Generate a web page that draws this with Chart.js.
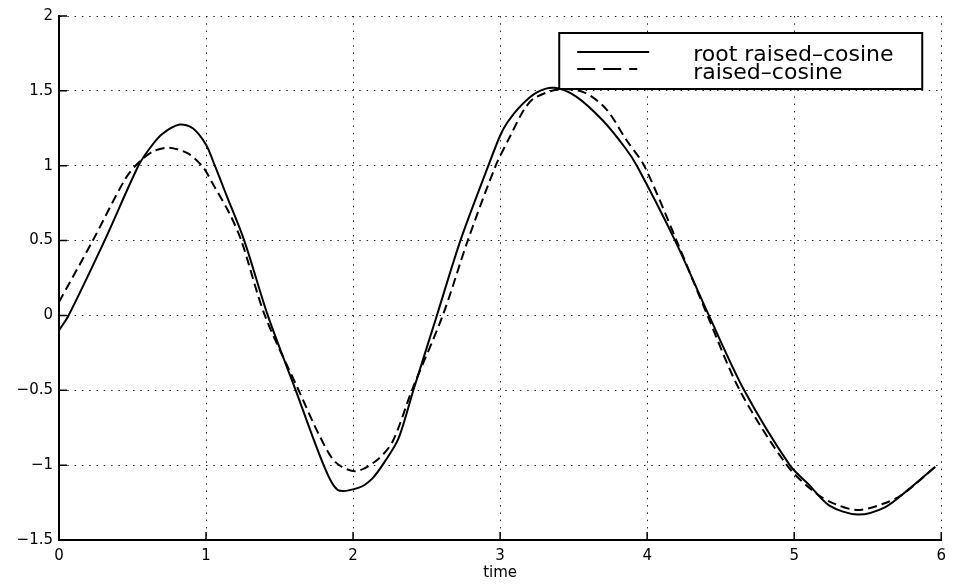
<!DOCTYPE html>
<html>
<head>
<meta charset="utf-8">
<script src="https://cdn.jsdelivr.net/npm/chart.js@4.4.1/dist/chart.umd.min.js"></script>
<style>
html, body { margin: 0; padding: 0; background: #fff; }
</style>
</head>
<body>
<canvas id="c" width="953" height="587"></canvas>
<script>
// root raised-cosine (solid)
const timeRoot = [0, 0.065, 0.31, 0.54, 0.62, 0.70, 0.82, 0.91, 1.0, 1.06, 1.14, 1.26, 1.42, 1.61, 1.80, 1.895, 2.04, 2.13, 2.22, 2.31, 2.41, 2.57, 2.73, 2.92, 3.0, 3.05, 3.14, 3.25, 3.37, 3.52, 3.70, 3.85, 3.93, 4.19, 4.42, 4.66, 4.97, 5.1, 5.24, 5.43, 5.62, 5.78, 5.96];
const rootRaised = [-0.10, 0, 0.5, 1.0, 1.12, 1.21, 1.275, 1.25, 1.14, 1.0, 0.8, 0.5, 0, -0.5, -1.0, -1.165, -1.15, -1.09, -0.97, -0.82, -0.5, 0, 0.5, 1.0, 1.2, 1.29, 1.4, 1.49, 1.52, 1.46, 1.3, 1.12, 1.0, 0.5, 0, -0.5, -1.0, -1.13, -1.27, -1.33, -1.28, -1.16, -1.01];

// raised-cosine (dashed)
const timeRc = [0, 0.23, 0.45, 0.55, 0.65, 0.75, 0.88, 0.98, 1.04, 1.16, 1.24, 1.40, 1.63, 1.77, 1.88, 2.02, 2.17, 2.27, 2.40, 2.61, 2.78, 2.97, 3.07, 3.16, 3.23, 3.40, 3.57, 3.72, 3.86, 3.98, 4.20, 4.41, 4.63, 4.95, 5.15, 5.28, 5.43, 5.6, 5.73, 5.96];
const raisedCos = [0.09, 0.5, 0.91, 1.03, 1.10, 1.12, 1.08, 0.99, 0.89, 0.68, 0.5, 0, -0.5, -0.8, -0.98, -1.04, -0.96, -0.84, -0.5, 0, 0.5, 1.0, 1.2, 1.37, 1.45, 1.51, 1.49, 1.38, 1.17, 1.0, 0.5, 0, -0.5, -1.0, -1.19, -1.26, -1.30, -1.26, -1.2, -1.01];

const xTicks = [0, 1, 2, 3, 4, 5, 6];
const yTicks = [-1.5, -1, -0.5, 0, 0.5, 1, 1.5, 2];
const seriesNames = ['root raised\u2013cosine', 'raised\u2013cosine'];
const xTitle = 'time';

const toPoints = (xs, ys) => xs.map((x, i) => ({ x, y: ys[i] }));
const fmt = (v) => (v < 0 ? '\u2212' + Math.abs(v) : String(v));

const FONT = '"DejaVu Sans", sans-serif';

// MATLAB style ticks pointing into the plot
const innerTicks = {
    id: 'innerTicks',
    afterDatasetsDraw(chart) {
        const { ctx, chartArea, scales } = chart;
        ctx.save();
        ctx.strokeStyle = '#000';
        ctx.lineWidth = 1.5;
        ctx.beginPath();
        yTicks.forEach((v) => {
            const y = scales.y.getPixelForValue(v);
            ctx.moveTo(chartArea.left, y);
            ctx.lineTo(chartArea.left + 8, y);
        });
        xTicks.forEach((v) => {
            const x = scales.x.getPixelForValue(v);
            ctx.moveTo(x, chartArea.bottom);
            ctx.lineTo(x, chartArea.bottom - 8);
        });
        ctx.stroke();
        ctx.restore();
    },
};

// boxed legend inside the axes, top right
const boxLegend = {
    id: 'boxLegend',
    afterDraw(chart) {
        const { ctx, chartArea } = chart;
        const x0 = chartArea.right - 382;
        const y0 = chartArea.top + 17;
        const w = 363;
        const h = 56;
        ctx.save();
        ctx.fillStyle = '#fff';
        ctx.fillRect(x0, y0, w, h);
        ctx.strokeStyle = '#000';
        ctx.lineWidth = 2;
        ctx.strokeRect(x0, y0, w, h);

        ctx.lineWidth = 2;
        ctx.beginPath();
        ctx.moveTo(x0 + 18, y0 + 19);
        ctx.lineTo(x0 + 90, y0 + 19);
        ctx.stroke();
        ctx.setLineDash([18, 8]);
        ctx.beginPath();
        ctx.moveTo(x0 + 18, y0 + 36);
        ctx.lineTo(x0 + 78, y0 + 36);
        ctx.stroke();
        ctx.setLineDash([]);

        ctx.fillStyle = '#000';
        ctx.font = '22px ' + FONT;
        ctx.textBaseline = 'alphabetic';
        ctx.textAlign = 'left';
        ctx.fillText(seriesNames[0], x0 + 134, y0 + 28);
        ctx.fillText(seriesNames[1], x0 + 134, y0 + 46);
        ctx.restore();
    },
};

new Chart(document.getElementById('c'), {
    type: 'line',
    data: {
        datasets: [
            {
                label: seriesNames[0],
                data: toPoints(timeRoot, rootRaised),
                borderColor: '#000',
                borderWidth: 2,
                pointRadius: 0,
                tension: 0.3,
                fill: false,
            },
            {
                label: seriesNames[1],
                data: toPoints(timeRc, raisedCos),
                borderColor: '#000',
                borderWidth: 2,
                borderDash: [9, 5],
                pointRadius: 0,
                tension: 0.3,
                fill: false,
            },
        ],
    },
    options: {
        responsive: false,
        animation: false,
        layout: { padding: { top: 16, right: 6, left: 0, bottom: 0 } },
        plugins: {
            legend: { display: false },
            tooltip: { enabled: false },
        },
        scales: {
            x: {
                type: 'linear',
                min: 0,
                max: 6,
                afterBuildTicks: (s) => { s.ticks = xTicks.map((v) => ({ value: v })); },
                afterFit: (s) => { s.height = 47; },
                grid: { color: '#222', lineWidth: 1, drawTicks: false },
                border: { display: true, color: '#000', width: 2, dash: [1.5, 5.8] },
                ticks: {
                    padding: 7,
                    color: '#000',
                    maxRotation: 0,
                    font: { family: FONT, size: 15 },
                    callback: (v) => fmt(v),
                },
                title: {
                    display: true,
                    text: xTitle,
                    color: '#000',
                    font: { family: FONT, size: 15 },
                    padding: { top: 0, bottom: 5 },
                },
            },
            y: {
                type: 'linear',
                min: -1.5,
                max: 2,
                afterBuildTicks: (s) => { s.ticks = yTicks.map((v) => ({ value: v })); },
                afterFit: (s) => { s.width = 59; },
                grid: { color: '#222', lineWidth: 1, drawTicks: false },
                border: { display: true, color: '#000', width: 2, dash: [1.5, 5.8] },
                ticks: {
                    padding: 6,
                    color: '#000',
                    font: { family: FONT, size: 15 },
                    callback: (v) => fmt(v),
                },
            },
        },
    },
    plugins: [innerTicks, boxLegend],
});
</script>
</body>
</html>
